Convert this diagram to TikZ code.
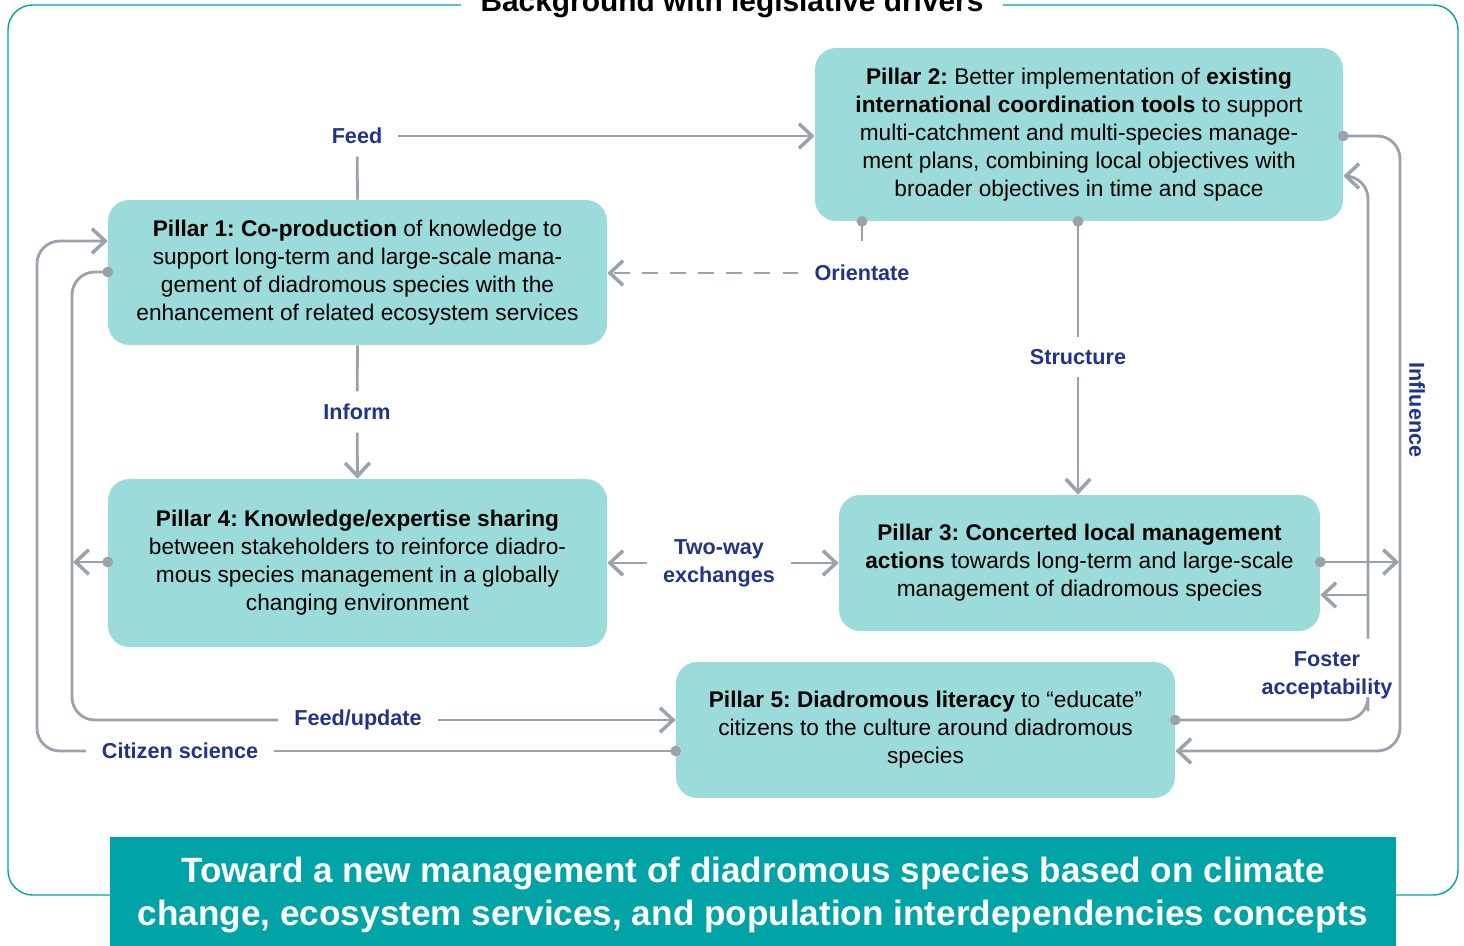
\documentclass[tikz,border=0pt]{standalone}
\usepackage{fontspec}
\setmainfont{Liberation Sans}
\usepackage{tikz}
\usetikzlibrary{positioning,arrows.meta}
\frenchspacing

\definecolor{pillarfill}{HTML}{9BDCDA}
\definecolor{bannerteal}{HTML}{00A4A6}
\definecolor{linkgray}{HTML}{9AA2AD}
\definecolor{lblblue}{HTML}{22338A}

\tikzset{
  pillar/.style={fill=pillarfill, rounded corners=12pt, align=center,
    font=\fontsize{12.9}{15.9}\selectfont, inner sep=2pt},
  lbl/.style={text=lblblue, font=\bfseries\fontsize{12.3}{15.9}\selectfont,
    align=center, inner xsep=9pt, inner ysep=7pt},
  conn/.style={draw=linkgray, line width=1.6pt, >={Straight Barb[length=7.5pt,width=14pt,line width=2pt]}},
  pindot/.tip={Circle[length=6pt]},
  fromdot/.style={pindot-, shorten <=-3pt},
  dotto/.style={pindot->, shorten <=-3pt},
}

\begin{document}
\begin{tikzpicture}[x=0.02cm, y=-0.02cm]
	\useasboundingbox (0,0) rectangle (1464,946);

	% frame and banner
	\draw[bannerteal, line width=0.8pt, rounded corners=14pt] (8,5) rectangle (1458,895);
	\node[fill=white, inner xsep=11pt, anchor=base, font=\bfseries\fontsize{17}{20}\selectfont] (bg) at (732,12) {Background with legislative drivers};
	\node[fill=bannerteal, text=white, minimum width=25.72cm, minimum height=2.32cm, align=center,
		font=\bfseries\fontsize{20}{25}\selectfont] (goal) at (753,895)
		{Toward a new management of diadromous species based on climate\\change, ecosystem services, and population interdependencies concepts};

	% pillars
	\node[pillar, minimum width=10.56cm, minimum height=3.46cm] (p2) at (1079,134.5)
		{\textbf{Pillar 2:} Better implementation of \textbf{existing}\\\textbf{international coordination tools} to support\\multi-catchment and multi-species manage-\\ment plans, combining local objectives with\\broader objectives in time and space};
	\node[pillar, minimum width=9.98cm, minimum height=2.9cm] (p1) at (357.5,272.5)
		{\textbf{Pillar 1: Co-production} of knowledge to\\support long-term and large-scale mana-\\gement of diadromous species with the\\enhancement of related ecosystem services};
	\node[pillar, minimum width=9.98cm, minimum height=3.36cm] (p4) at (357.5,563)
		{\textbf{Pillar 4: Knowledge/expertise sharing}\\between stakeholders to reinforce diadro-\\mous species management in a globally\\changing environment};
	\node[pillar, minimum width=9.62cm, minimum height=2.72cm] (p3) at (1079.5,563)
		{\textbf{Pillar 3: Concerted local management}\\\textbf{actions} towards long-term and large-scale\\management of diadromous species};
	\node[pillar, minimum width=9.98cm, minimum height=2.72cm] (p5) at (925.5,730)
		{\textbf{Pillar 5: Diadromous literacy} to “educate”\\citizens to the culture around diadromous\\species};

	% labels
	\node[lbl] (feed) at (357,136) {Feed};
	\node[lbl] (orient) at (862,273) {Orientate};
	\node[lbl] (struct) at (1078,357) {Structure};
	\node[lbl] (inform) at (357,412) {Inform};
	\node[lbl] (twoway) at (719,563) {Two-way\\exchanges};
	\node[lbl] (citizen) at (180,751) {Citizen science};
	\node[lbl] (update) at (358,720) {Feed/update};
	\node[lbl, inner xsep=2pt] (foster) at (1327,675) {Foster\\acceptability};
	\node[lbl, rotate=-90] (influence) at (1417,410) {Influence};

	% links between pillars
	\draw[conn] (p1.north) -- (feed);
	\draw[conn, ->] (feed) -- (feed -| p2.west);
	\draw[conn, fromdot, dash pattern=on 9pt off 7pt] (p2.south -| orient) -- (orient);
	\draw[conn, ->, dash pattern=on 9pt off 7pt] (orient) -- (orient -| p1.east);
	\draw[conn, fromdot] (p2.south -| struct) -- (struct);
	\draw[conn, ->] (struct) -- (p3.north -| struct);
	\draw[conn] (p1.south) -- (inform);
	\draw[conn, ->] (inform) -- (p4.north);
	\draw[conn, ->] (twoway) -- (p4.east |- twoway);
	\draw[conn, ->] (twoway) -- (p3.west |- twoway);

	% left loops
	\draw[conn, fromdot] (p5.west |- citizen) -- (citizen);
	\draw[conn, ->, rounded corners=13pt] (citizen.west) -- (37,751) -- (37,241) -- (p1.west |- 0,241);
	\draw[conn, fromdot, rounded corners=13pt] (p1.west |- 0,272) -- (72,272) -- (72,720) -- (update.west);
	\draw[conn, ->] (update.east) -- (p5.west |- update);
	\draw[conn, dotto] (p4.west |- 0,562) -- (73,562);

	% right loops
	\draw[conn, dotto, rounded corners=13pt] (p2.east |- 0,136) -- (1400,136) -- (1400,751) -- (p5.east |- 0,751);
	\draw[conn, dotto] (p3.east |- 0,562) -- (1399,562);
	\draw[conn, fromdot, rounded corners=13pt] (p5.east |- 0,720) -- (1368,720) -- (foster.south -| 1368,0);
	\draw[conn, ->, rounded corners=13pt] (foster.north -| 1368,0) -- (1368,176) -- (p2.east |- 0,176);
	\draw[conn, ->] (1368,595) -- (p3.east |- 0,595);
\end{tikzpicture}
\end{document}
